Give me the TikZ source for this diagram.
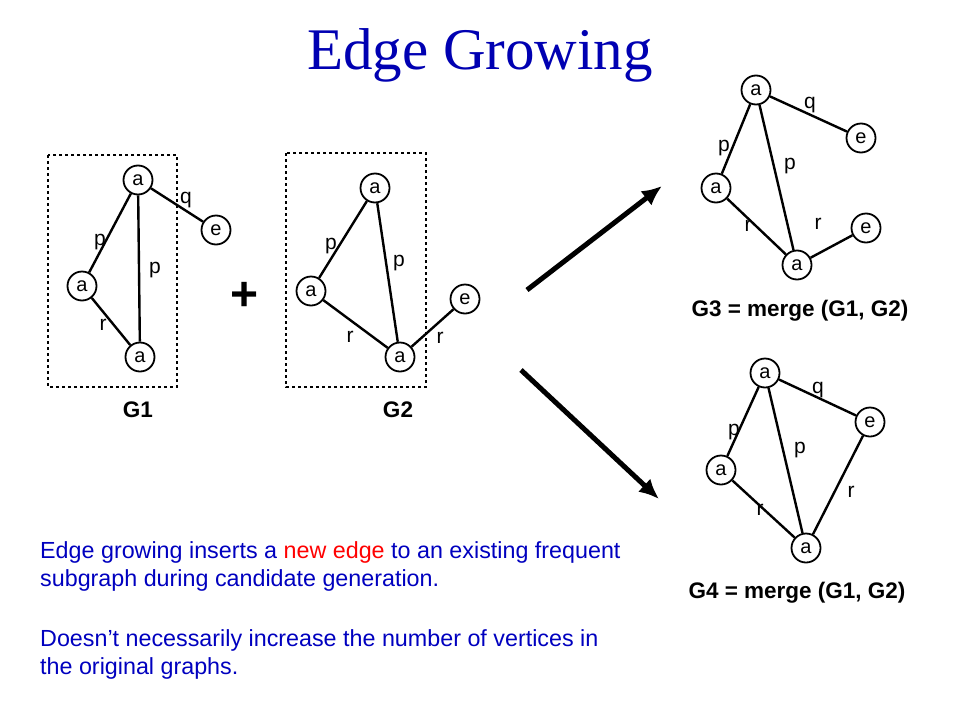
\documentclass[tikz,border=0pt]{standalone}
\usepackage{fontspec}
\setmainfont{Liberation Serif}
\newfontfamily\arial{Liberation Sans}
\usetikzlibrary{arrows.meta}
\begin{document}
\begin{tikzpicture}[x=1pt,y=-1pt,
 v/.style={circle,draw,line width=1.8pt,fill=white,inner sep=0pt,minimum size=29pt,font=\arial\fontsize{20}{20}\selectfont},
 edg/.style={line width=2.4pt},
 lb/.style={font=\arial\fontsize{21}{21}\selectfont},
 capt/.style={font=\arial\bfseries\fontsize{22.5}{22.5}\selectfont},
 bx/.style={draw,dashed,line width=1.5pt},
 ar/.style={line width=5pt,-{Latex[length=20pt,width=18pt]}},
 txt/.style={font=\arial\fontsize{23.3}{28}\selectfont,text=blue!75!black,anchor=west,inner sep=0pt}]
\useasboundingbox (0,0) rectangle (960,720);
\node[font=\fontsize{59}{59}\selectfont,text=blue!70!black] (title) at (480,55) {Edge Growing};
% G1
\draw[bx] (48,155) rectangle (177,387);
\node[v] (a1) at (138,180) {a};
\node[v] (a2) at (82,286) {a};
\node[v] (a3) at (140,357) {a};
\node[v] (e1) at (216,230) {e};
\draw[edg] (a1)--(a2) (a1)--(a3) (a2)--(a3) (a1)--(e1);
\node[lb] at (100,242) {p};\node[lb] at (155,270) {p};\node[lb] at (103,325) {r};\node[lb] at (186,200) {q};
\node[capt] (g1) at (138,410) {G1};
\node[font=\arial\bfseries\fontsize{48}{48}\selectfont] (plus) at (245,296) {+};
% G2
\draw[bx] (286,153) rectangle (426,387);
\node[v] (b1) at (375,188) {a};
\node[v] (b2) at (311,291) {a};
\node[v] (b3) at (400,357) {a};
\node[v] (f1) at (465,299) {e};
\draw[edg] (b1)--(b2) (b1)--(b3) (b2)--(b3) (b3)--(f1);
\node[lb] at (331,246) {p};\node[lb] at (399,263) {p};\node[lb] at (350,337) {r};\node[lb] at (440,338) {r};
\node[capt] (g2) at (398,410) {G2};
% arrows
\coordinate (s1) at (527,290); \coordinate (t1) at (662,186);
\coordinate (s2) at (521,370); \coordinate (t2) at (659,499);
\draw[ar] (s1)--(t1); \draw[ar] (s2)--(t2);
% G3
\node[v] (c1) at (756,90) {a};
\node[v] (c2) at (861,138) {e};
\node[v] (c3) at (716,188) {a};
\node[v] (c4) at (866,228) {e};
\node[v] (c5) at (797,265) {a};
\draw[edg] (c1)--(c2) (c1)--(c3) (c1)--(c5) (c3)--(c5) (c5)--(c4);
\node[lb] at (810,105) {q};\node[lb] at (724,148) {p};\node[lb] at (790,166) {p};\node[lb] at (748,226) {r};\node[lb] at (818,224) {r};
\node[capt] (g3) at (800,311) {G3 = merge (G1, G2)};
% G4
\node[v] (d1) at (765,373) {a};
\node[v] (d2) at (870,422) {e};
\node[v] (d3) at (721,470) {a};
\node[v] (d4) at (806,548) {a};
\draw[edg] (d1)--(d2) (d1)--(d3) (d1)--(d4) (d3)--(d4) (d2)--(d4);
\node[lb] at (818,390) {q};\node[lb] at (734,432) {p};\node[lb] at (800,450) {p};\node[lb] at (760,510) {r};\node[lb] at (851,492) {r};
\node[capt] (g4) at (797,593) {G4 = merge (G1, G2)};
% text
\node[txt] (t1l) at (40,552) {Edge growing inserts a \textcolor{red}{new edge} to an existing frequent};
\node[txt] (t2l) at (40,580) {subgraph during candidate generation.};
\node[txt] (t3l) at (40,640) {Doesn’t necessarily increase the number of vertices in};
\node[txt] (t4l) at (40,668) {the original graphs.};
\end{tikzpicture}
\end{document}
